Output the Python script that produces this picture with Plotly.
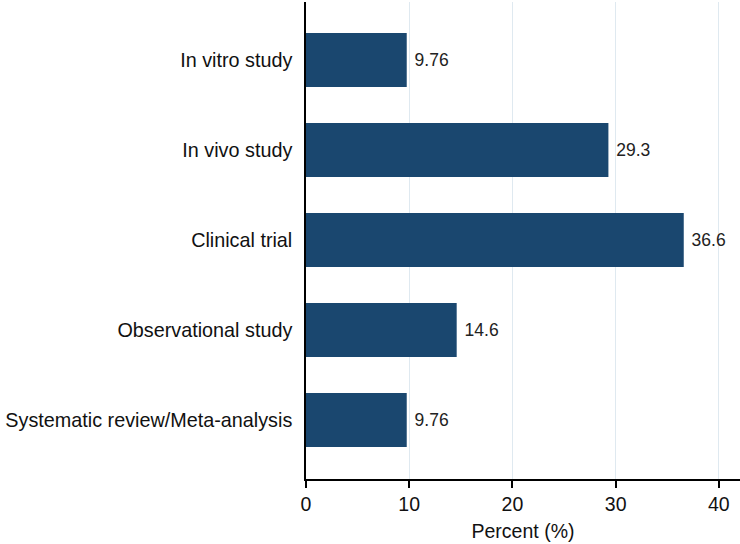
import plotly.graph_objects as go

categories = ["In vitro study", "In vivo study", "Clinical trial",
              "Observational study", "Systematic review/Meta-analysis"]
percents = [9.76, 29.3, 36.6, 14.6, 9.76]
labels = ["9.76", "29.3", "36.6", "14.6", "9.76"]
x_ticks = [0, 10, 20, 30, 40]

FONT = "Liberation Sans, Arial"

fig = go.Figure(go.Bar(
    y=categories, x=percents, orientation="h",
    marker=dict(color="#1a476f", line=dict(width=0)),
    width=0.6,
    text=labels, texttemplate="\u00a0%{text}",
    textposition="outside", constraintext="none",
    textfont=dict(family=FONT, size=17.5, color="#222"),
    cliponaxis=False,
))

fig.update_layout(
    width=740, height=544,
    margin=dict(l=306, r=0, t=2, b=65),
    paper_bgcolor="white", plot_bgcolor="white",
    font=dict(family=FONT, size=19, color="#111"),
    showlegend=False,
    xaxis=dict(
        range=[0, 42.05], tickvals=x_ticks, ticktext=[str(v) for v in x_ticks],
        showgrid=True, gridcolor="#dfe9f0", gridwidth=1.2,
        showline=True, linecolor="black", linewidth=1.5,
        ticks="outside", ticklen=7, tickcolor="black", tickwidth=1.5,
        tickfont=dict(size=19.5),
        title=dict(text="Percent (%)", font=dict(size=19.5), standoff=10),
        zeroline=False, automargin=False,
    ),
    yaxis=dict(
        categoryorder="array", categoryarray=categories,
        range=[4.656, -0.644],
        showline=True, linecolor="black", linewidth=1.5,
        ticks="outside", ticklen=8, tickcolor="rgba(0,0,0,0)",
        showgrid=False, zeroline=False, automargin=False,
        tickfont=dict(size=19.8),
    ),
)

fig.write_html("out.html", config={"displayModeBar": False},
               post_script="document.body.style.margin='0';")
